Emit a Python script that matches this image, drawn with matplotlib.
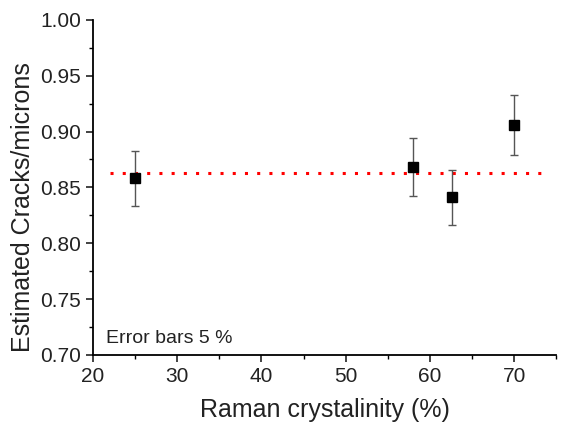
import matplotlib
matplotlib.use("Agg")
import matplotlib.pyplot as plt
from matplotlib.ticker import MultipleLocator

plt.rcParams['font.family'] = ['Liberation Sans', 'DejaVu Sans']

crystallinity = [25.0, 58.0, 62.6, 70.0]
cracks = [0.858, 0.868, 0.841, 0.906]
errors = [0.025, 0.026, 0.025, 0.027]
mean_level = 0.863
mean_x = [22.0, 74.0]

fig = plt.figure(figsize=(5.63, 4.24), dpi=100)
ax = fig.add_axes([0.165, 0.163, 0.823, 0.79])

ax.plot(mean_x, [mean_level, mean_level], color='red', linestyle=(0, (1, 3)),
        linewidth=2.2, zorder=1)
ax.errorbar(crystallinity, cracks, yerr=errors, fmt='s', color='black',
            markersize=7, ecolor='#555555', elinewidth=1.0, capsize=3,
            capthick=1.0, zorder=3)

ax.set_xlim(20, 75)
ax.set_ylim(0.70, 1.00)
ax.xaxis.set_major_locator(MultipleLocator(10))
ax.xaxis.set_minor_locator(MultipleLocator(5))
ax.yaxis.set_major_locator(MultipleLocator(0.05))
ax.yaxis.set_minor_locator(MultipleLocator(0.025))
ax.yaxis.set_major_formatter(matplotlib.ticker.FormatStrFormatter('%.2f'))

for s in ['top', 'right']:
    ax.spines[s].set_visible(False)
for s in ['left', 'bottom']:
    ax.spines[s].set_linewidth(1.3)
ax.tick_params(which='major', direction='out', length=5, width=1.2, labelsize=15, colors='#222222')
ax.tick_params(which='minor', direction='out', length=3, width=1.0)

ax.set_xlabel('Raman crystalinity (%)', fontsize=18, color='#222222', labelpad=9)
ax.set_ylabel('Estimated Cracks/microns', fontsize=18, color='#222222', labelpad=5)
ax.yaxis.set_label_coords(-0.124, 0.44)
ax.text(21.5, 0.711, 'Error bars 5 %', fontsize=14, color='#222222')

fig.savefig('out.png', dpi=100)
